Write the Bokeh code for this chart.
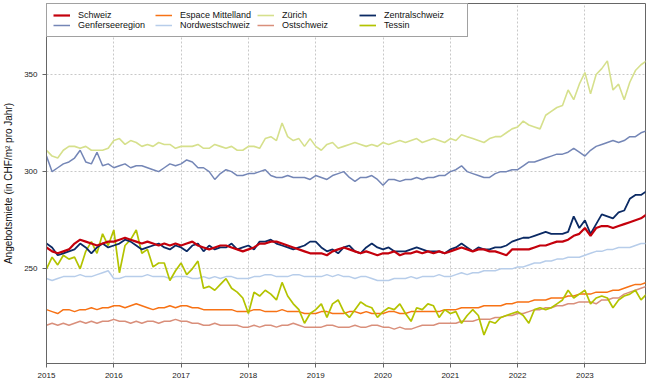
import pandas as pd
from bokeh.plotting import figure
from bokeh.models import Range1d, FixedTicker, Legend, LegendItem, BasicTickFormatter
from bokeh.embed import file_html
from bokeh.resources import INLINE

# monthly observations, Jan 2015 .. Dec 2023
months = pd.date_range("2015-01-01", periods=108, freq="MS")
t = list(months.year + (months.month - 1) / 12.0)

year_ticks = [2015, 2016, 2017, 2018, 2019, 2020, 2021, 2022, 2023]
value_ticks = [250, 300, 350]

schweiz = [
    261, 259, 258, 259, 260, 263, 265, 264, 263, 262, 263, 264,
    264, 265, 266, 265, 264, 263, 264, 263, 262, 263, 262, 263,
    262, 263, 264, 262, 261, 260, 261, 262, 262, 261, 260, 259,
    260, 261, 263, 263, 264, 264, 263, 262, 261, 260, 259, 258,
    258, 258, 257, 259, 260, 261, 260, 259, 258, 259, 258, 257,
    258, 258, 259, 257, 258, 258, 259, 258, 259, 258, 259, 258,
    259, 260, 261, 260, 259, 260, 260, 259, 259, 258, 257, 260,
    260, 260, 260, 261, 262, 262, 263, 264, 264, 265, 267, 268,
    271, 267, 271, 272, 272, 271, 272, 273, 274, 275, 276, 278]

genfersee = [
    308, 300, 302, 304, 305, 307, 311, 305, 304, 310, 303, 304,
    302, 303, 304, 302, 303, 303, 302, 301, 300, 302, 304, 303,
    304, 306, 305, 302, 302, 300, 296, 299, 301, 300, 298, 298,
    299, 299, 300, 301, 298, 297, 297, 298, 297, 297, 297, 296,
    298, 297, 296, 298, 299, 300, 297, 295, 297, 297, 298, 296,
    293, 296, 296, 295, 296, 296, 297, 296, 297, 297, 298, 298,
    300, 301, 303, 300, 299, 298, 297, 297, 299, 300, 300, 301,
    301, 303, 305, 305, 306, 307, 308, 309, 309, 310, 312, 310,
    308, 311, 313, 314, 315, 316, 315, 316, 318, 318, 320, 321]

espace = [
    229, 228, 227, 229, 229, 228, 229, 229, 230, 229, 230, 230,
    231, 231, 230, 231, 232, 231, 230, 229, 230, 230, 231, 230,
    231, 231, 230, 230, 229, 229, 229, 229, 229, 229, 228, 228,
    228, 229, 229, 228, 228, 228, 229, 228, 228, 228, 227, 227,
    227, 228, 228, 227, 227, 227, 228, 228, 227, 228, 227, 227,
    227, 228, 228, 227, 227, 228, 228, 228, 228, 228, 228, 229,
    229, 229, 230, 230, 230, 230, 231, 231, 231, 231, 232, 232,
    233, 233, 233, 234, 234, 234, 235, 235, 235, 236, 236, 237,
    237, 237, 238, 238, 238, 239, 239, 240, 241, 242, 242, 243]

nordwest = [
    245, 244, 245, 246, 246, 246, 247, 246, 246, 247, 248, 249,
    245, 245, 246, 246, 246, 246, 247, 246, 246, 246, 245, 246,
    246, 246, 245, 245, 246, 245, 246, 245, 246, 246, 245, 245,
    245, 246, 246, 247, 247, 246, 246, 246, 247, 247, 246, 246,
    246, 246, 247, 246, 247, 246, 246, 245, 246, 246, 245, 244,
    244, 244, 245, 245, 245, 246, 245, 246, 246, 246, 247, 246,
    246, 247, 248, 247, 248, 248, 249, 249, 249, 250, 250, 250,
    251, 251, 252, 253, 253, 254, 254, 255, 255, 256, 256, 256,
    257, 258, 259, 259, 260, 260, 261, 261, 261, 262, 263, 263]

zuerich = [
    311, 308, 307, 311, 313, 313, 312, 313, 311, 311, 311, 312,
    316, 317, 314, 316, 315, 313, 314, 313, 315, 314, 314, 312,
    313, 313, 313, 314, 312, 312, 314, 313, 312, 313, 311, 311,
    313, 313, 312, 317, 318, 316, 325, 318, 316, 317, 313, 317,
    313, 311, 314, 315, 312, 313, 314, 315, 314, 313, 314, 313,
    315, 314, 315, 316, 315, 316, 317, 315, 316, 317, 316, 315,
    317, 316, 319, 318, 317, 316, 315, 317, 318, 318, 320, 322,
    323, 326, 324, 323, 322, 329, 331, 333, 334, 342, 337, 345,
    351, 340, 350, 353, 357, 342, 345, 337, 346, 352, 355, 357]

ost = [
    221, 222, 221, 222, 221, 222, 223, 222, 223, 222, 223, 223,
    224, 223, 223, 222, 223, 222, 223, 223, 222, 223, 223, 224,
    223, 223, 222, 222, 221, 221, 222, 221, 221, 221, 221, 220,
    220, 221, 220, 221, 221, 220, 221, 221, 222, 221, 220, 220,
    220, 220, 221, 221, 220, 220, 220, 221, 220, 220, 221, 221,
    220, 220, 219, 220, 219, 219, 220, 221, 221, 221, 222, 222,
    222, 222, 223, 223, 223, 224, 224, 224, 225, 225, 226, 226,
    227, 227, 228, 229, 229, 230, 230, 231, 231, 232, 232, 233,
    233, 233, 232, 234, 234, 235, 235, 237, 238, 239, 240, 241]

zentral = [
    263, 261, 257, 258, 259, 260, 263, 261, 258, 261, 263, 261,
    262, 263, 265, 264, 262, 260, 261, 262, 263, 261, 260, 262,
    261, 259, 262, 263, 259, 262, 260, 261, 261, 263, 260, 261,
    262, 260, 264, 264, 265, 263, 262, 261, 260, 261, 262, 264,
    264, 261, 259, 260, 258, 261, 262, 259, 258, 261, 263, 261,
    260, 261, 259, 259, 259, 260, 261, 260, 259, 259, 259, 258,
    260, 261, 263, 261, 259, 261, 260, 260, 261, 261, 262, 264,
    265, 266, 266, 267, 268, 269, 268, 268, 268, 269, 277, 271,
    275, 268, 273, 278, 277, 276, 279, 280, 286, 288, 288, 290]

tessin = [
    250, 256, 252, 257, 255, 256, 250, 259, 264, 258, 268, 262,
    270, 248, 262, 265, 270, 258, 260, 251, 253, 253, 244, 249,
    253, 247, 250, 254, 240, 241, 239, 242, 245, 240, 238, 235,
    227, 238, 236, 239, 237, 234, 243, 236, 232, 229, 222, 227,
    229, 232, 225, 232, 234, 228, 225, 229, 233, 231, 230, 225,
    228, 230, 229, 232, 227, 223, 230, 229, 232, 231, 225, 229,
    227, 228, 222, 226, 229, 226, 216, 223, 222, 225, 226, 227,
    228, 226, 222, 229, 230, 229, 230, 232, 234, 239, 235, 237,
    239, 232, 235, 236, 235, 230, 234, 236, 237, 239, 234, 237]

FONT = "Liberation Sans"

p = figure(width=653, height=386, output_backend="svg", toolbar_location=None,
           x_range=Range1d(2015, 2023.9), y_range=Range1d(201.3, 386.5),
           min_border_left=46, min_border_right=8, min_border_top=3,
           min_border_bottom=23, background_fill_color="white",
           border_fill_color="white")

p.outline_line_color = "#666666"
p.outline_line_width = 1

for ax in (p.xaxis, p.yaxis):
    ax.axis_line_color = "#666666"
    ax.major_tick_line_color = "#666666"
    ax.major_tick_in = 0
    ax.major_tick_out = 4
    ax.minor_tick_line_color = None
    ax.major_label_text_font = FONT
    ax.major_label_text_font_size = "8px"
    ax.major_label_text_color = "#222222"
    ax.major_label_standoff = 5

p.xaxis.ticker = FixedTicker(ticks=year_ticks)
p.xaxis.formatter = BasicTickFormatter(use_scientific=False)
p.yaxis.ticker = FixedTicker(ticks=value_ticks)
p.yaxis.major_label_orientation = "horizontal"
p.yaxis.axis_label = "Angebotsmiete (in CHF/m² pro Jahr)"
p.yaxis.axis_label_text_font = FONT
p.yaxis.axis_label_text_font_style = "normal"
p.yaxis.axis_label_text_font_size = "10px"
p.yaxis.axis_label_text_color = "#111111"
p.yaxis.axis_label_standoff = 7

p.xgrid.ticker = FixedTicker(ticks=year_ticks)
p.ygrid.ticker = FixedTicker(ticks=value_ticks)
p.grid.grid_line_color = "#c8c8c8"
p.grid.grid_line_dash = "2 2"
p.grid.grid_line_width = 1

series = {
    "Genferseeregion": (genfersee, "#7486b6", 1.5),
    "Zürich": (zuerich, "#d6e08c", 1.6),
    "Nordwestschweiz": (nordwest, "#b7cdea", 1.5),
    "Ostschweiz": (ost, "#d98f7b", 1.5),
    "Espace Mittelland": (espace, "#f77215", 1.5),
    "Tessin": (tessin, "#b3c300", 1.7),
    "Zentralschweiz": (zentral, "#0b2a64", 1.8),
    "Schweiz": (schweiz, "#c4000c", 2.2),
}

renderers = {}
for name, (vals, col, lw) in series.items():
    renderers[name] = p.line(t, vals, line_color=col, line_width=lw)

legend_order = ["Schweiz", "Genferseeregion", "Espace Mittelland", "Nordwestschweiz",
                "Zürich", "Ostschweiz", "Zentralschweiz", "Tessin"]

legend = Legend(items=[LegendItem(label=n, renderers=[renderers[n]]) for n in legend_order],
                location="top_left", orientation="vertical", ncols=4,
                margin=0, padding=6, spacing=0,
                glyph_width=17, glyph_height=10, label_width=77, label_height=10,
                label_standoff=8,
                label_text_font=FONT, label_text_font_size="9px",
                label_text_color="#111111",
                border_line_color="#444444", border_line_width=1,
                background_fill_color="white", background_fill_alpha=1.0)
p.add_layout(legend)

open("out.html", "w").write(file_html(p, INLINE))
